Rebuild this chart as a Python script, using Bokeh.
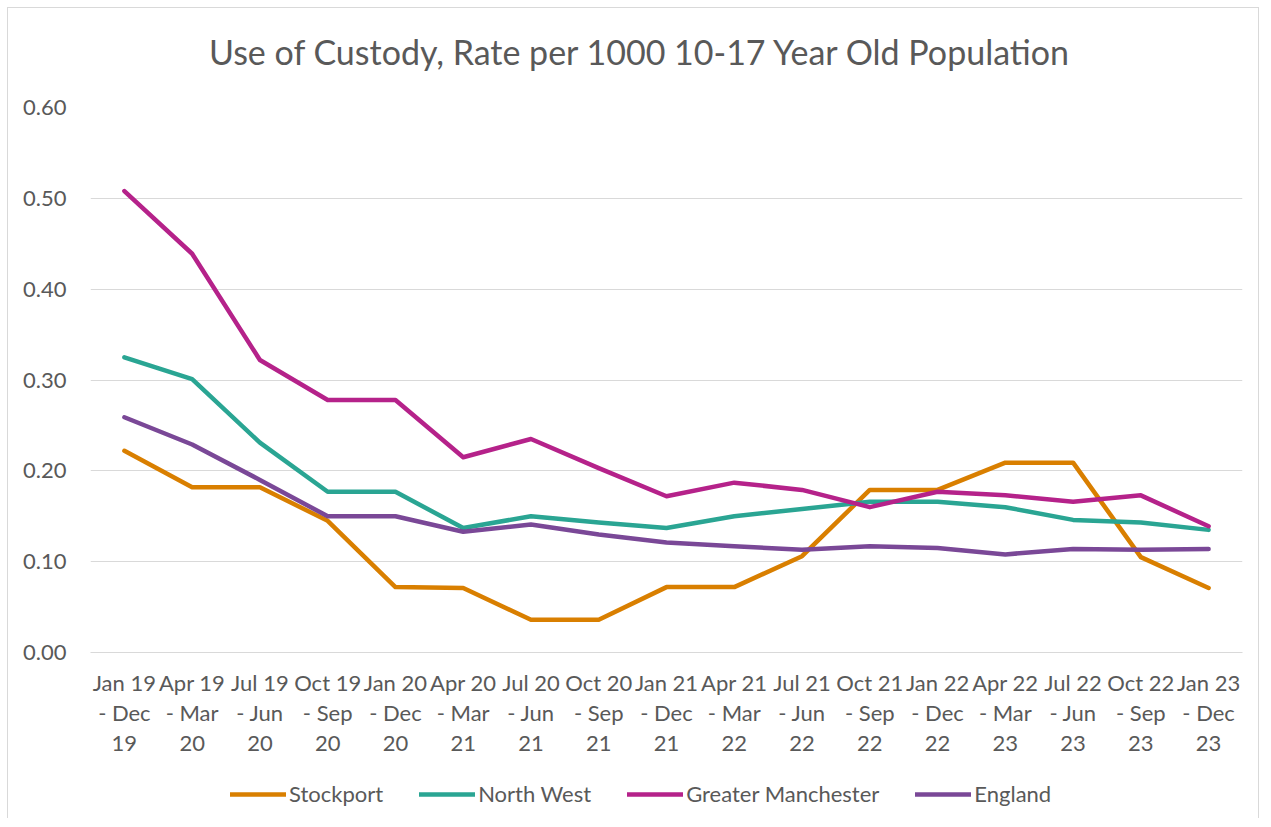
from bokeh.plotting import figure
from bokeh.layouts import column
from bokeh.models import (FactorRange, Range1d, FixedTicker, NumeralTickFormatter,
                          Legend, LegendItem, Div)
from bokeh.embed import file_html
from bokeh.resources import INLINE

title_text = "Use of Custody, Rate per 1000 10-17 Year Old Population"

periods = [
    "Jan 19\n- Dec\n19", "Apr 19\n- Mar\n20", "Jul 19\n- Jun\n20", "Oct 19\n- Sep\n20",
    "Jan 20\n- Dec\n20", "Apr 20\n- Mar\n21", "Jul 20\n- Jun\n21", "Oct 20\n- Sep\n21",
    "Jan 21\n- Dec\n21", "Apr 21\n- Mar\n22", "Jul 21\n- Jun\n22", "Oct 21\n- Sep\n22",
    "Jan 22\n- Dec\n22", "Apr 22\n- Mar\n23", "Jul 22\n- Jun\n23", "Oct 22\n- Sep\n23",
    "Jan 23\n- Dec\n23",
]

stockport = [0.222, 0.182, 0.182, 0.145, 0.072, 0.071, 0.036, 0.036, 0.072,
             0.072, 0.106, 0.179, 0.179, 0.209, 0.209, 0.105, 0.071]
north_west = [0.325, 0.301, 0.231, 0.177, 0.177, 0.137, 0.150, 0.143, 0.137,
              0.150, 0.158, 0.166, 0.166, 0.160, 0.146, 0.143, 0.135]
greater_manchester = [0.508, 0.439, 0.322, 0.278, 0.278, 0.215, 0.235, 0.203, 0.172,
                      0.187, 0.179, 0.160, 0.177, 0.173, 0.166, 0.173, 0.139]
england = [0.259, 0.229, 0.190, 0.150, 0.150, 0.133, 0.141, 0.130, 0.121,
           0.117, 0.113, 0.117, 0.115, 0.108, 0.114, 0.113, 0.114]

series_names = ["Stockport", "North West", "Greater Manchester", "England"]
series_values = [stockport, north_west, greater_manchester, england]
series_colors = ["#D97F00", "#2AA593", "#B5228A", "#7A4897"]

y_ticks = [0.0, 0.1, 0.2, 0.3, 0.4, 0.5, 0.6]

FONT = "Lato"
TXT = "#595959"

title_div = Div(text=title_text, width=1250, height=79, margin=0,
                styles={"font-family": FONT, "font-size": "34px", "color": TXT,
                        "text-align": "center", "padding-top": "23px",
                        "padding-left": "12px", "box-sizing": "border-box",
                        "line-height": "normal", "white-space": "nowrap"})

p = figure(frame_width=1152, frame_height=545,
           x_range=FactorRange(*periods, range_padding=0),
           y_range=Range1d(0, 0.6), output_backend="svg", toolbar_location=None,
           min_border_left=82, min_border_right=16, min_border_top=20,
           min_border_bottom=0)
p.outline_line_color = None

for name, vals, col in zip(series_names, series_values, series_colors):
    p.line(periods, vals, line_color=col, line_width=4.5,
           line_cap="round", line_join="round")

p.xgrid.grid_line_color = None
p.ygrid.grid_line_color = "#D9D9D9"
p.ygrid.grid_line_width = 1.2
p.ygrid.ticker = FixedTicker(ticks=y_ticks)

p.yaxis.ticker = FixedTicker(ticks=y_ticks)
p.yaxis.formatter = NumeralTickFormatter(format="0.00")
p.yaxis.axis_line_color = None
p.yaxis.major_tick_line_color = None
p.yaxis.minor_tick_line_color = None
p.yaxis.major_label_standoff = 18
p.yaxis.major_label_text_font = FONT
p.yaxis.major_label_text_font_size = "22px"
p.yaxis.major_label_text_color = TXT

p.xaxis.axis_line_color = "#D9D9D9"
p.xaxis.axis_line_width = 1.2
p.xaxis.major_tick_line_color = None
p.xaxis.minor_tick_line_color = None
p.xaxis.major_label_standoff = 10
p.xaxis.major_label_text_font = FONT
p.xaxis.major_label_text_font_size = "22px"
p.xaxis.major_label_text_color = TXT
p.xaxis.major_label_text_line_height = 1.12

# legend in its own strip below the chart (series drawn out of view there)
lg = figure(width=1250, height=60, x_range=FactorRange(*periods, range_padding=0),
            y_range=Range1d(10, 11), output_backend="svg", toolbar_location=None,
            min_border=0)
lg.axis.visible = False
lg.grid.visible = False
lg.outline_line_color = None
items = []
for name, vals, col in zip(series_names, series_values, series_colors):
    r = lg.line(periods, vals, line_color=col, line_width=4.5,
                line_cap="round", line_join="round")
    items.append(LegendItem(label=name, renderers=[r]))
legend = Legend(items=items, orientation="horizontal", location=(140, 11),
                label_text_font=FONT, label_text_font_size="22px",
                label_text_color=TXT, glyph_width=56, glyph_height=20,
                label_standoff=3, spacing=36, border_line_color=None,
                background_fill_alpha=0, margin=0, padding=0)
lg.add_layout(legend, "center")

layout = column(title_div, p, lg, spacing=0,
                styles={"border-top": "1px solid #D9D9D9",
                        "border-left": "1px solid #D9D9D9",
                        "border-right": "1px solid #D9D9D9",
                        "margin": "7px 0 0 7px"})

open("out.html", "w").write(file_html(layout, INLINE))
